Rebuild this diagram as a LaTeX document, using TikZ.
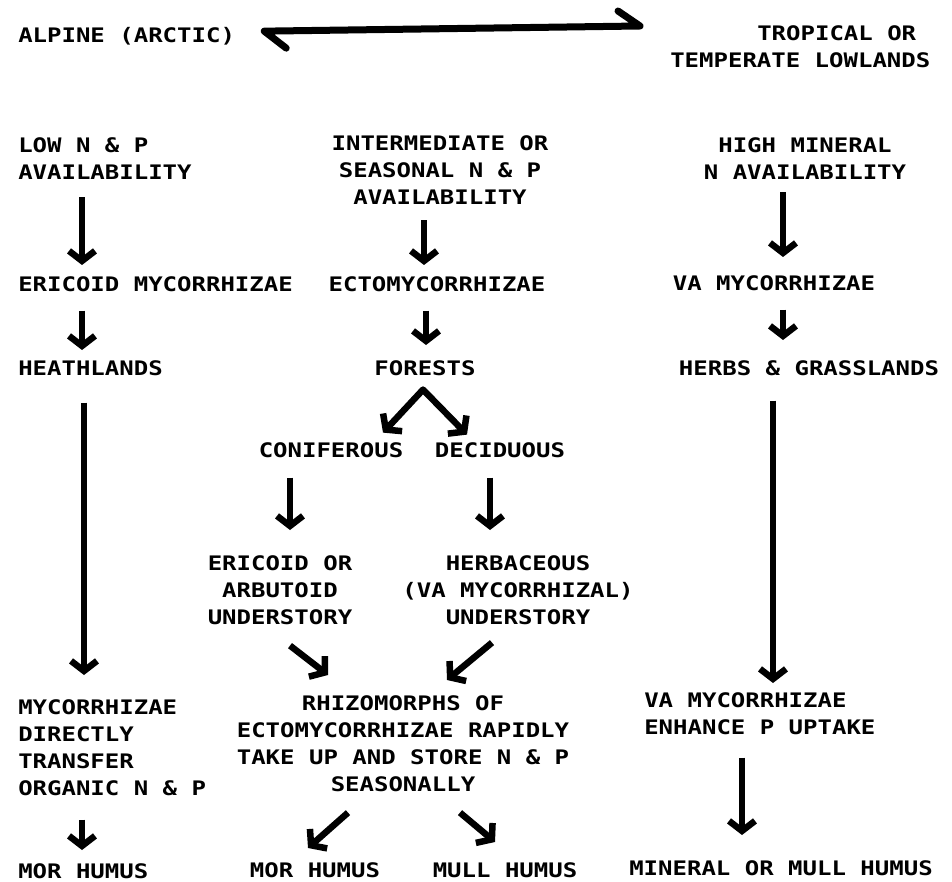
\documentclass[tikz,border=0pt]{standalone}
\usepackage{fontspec}
\newfontfamily\lettering{DejaVu Sans Mono}[FakeStretch=1.2]
\usetikzlibrary{arrows.meta}

\begin{document}
\begin{tikzpicture}[x=1pt, y=-1pt, line width=6.5pt,
  lbl/.style={font=\lettering\bfseries\fontsize{20}{27}\selectfont, inner sep=0pt, yshift=4pt},
  arr/.style={-{Straight Barb[length=10pt,width=26pt]}},
  both/.style={{Straight Barb[length=10pt,width=26pt]}-{Straight Barb[length=10pt,width=26pt]}, line join=round},
  harp/.style={line cap=round, line join=round, line width=7pt}]
\useasboundingbox (0,0) rectangle (952,882);

    \node [lbl, anchor=north west] (alpine) at (15,28) {ALPINE (ARCTIC)};
    \node [lbl, anchor=north west, align=left] (tropic) at (667,26) {\hspace*{87pt}TROPICAL OR\\TEMPERATE LOWLANDS};

    \node [lbl, anchor=north west, align=left] (lowNP) at (15,138) {LOW N \& P\\AVAILABILITY};
    \node [lbl, anchor=north west] (ericoid) at (15,277) {ERICOID MYCORRHIZAE};
    \node [lbl, anchor=north west] (heath) at (15,361) {HEATHLANDS};
    \node [lbl, anchor=north west, align=left] (direct) at (15,700) {MYCORRHIZAE\\DIRECTLY\\TRANSFER\\ORGANIC N \& P};
    \node [lbl, anchor=north west] (morL) at (15,864) {MOR HUMUS};

    \node [lbl, anchor=north, align=center] (interm) at (440,136) {INTERMEDIATE OR\\SEASONAL N \& P\\AVAILABILITY};
    \node [lbl, anchor=north] (ecto) at (437,277) {ECTOMYCORRHIZAE};
    \node [lbl, anchor=north] (forests) at (425,361) {FORESTS};
    \node [lbl, anchor=north] (conif) at (331,443) {CONIFEROUS};
    \node [lbl, anchor=north] (decid) at (500,443) {DECIDUOUS};
    \node [lbl, anchor=north, align=center] (ericor) at (280,556) {ERICOID OR\\ARBUTOID\\UNDERSTORY};
    \node [lbl, anchor=north, align=center] (herbac) at (518,556) {HERBACEOUS\\(VA MYCORRHIZAL)\\UNDERSTORY};
    \node [lbl, anchor=north, align=center] (rhizo) at (403,696) {RHIZOMORPHS OF\\ECTOMYCORRHIZAE RAPIDLY\\TAKE UP AND STORE N \& P\\SEASONALLY};
    \node [lbl, anchor=north] (morM) at (315,863) {MOR HUMUS};
    \node [lbl, anchor=north] (mull) at (505,863) {MULL HUMUS};

    \node [lbl, anchor=north, align=center] (highN) at (805,138) {HIGH MINERAL\\N AVAILABILITY};
    \node [lbl, anchor=north] (vaM) at (774,276) {VA MYCORRHIZAE};
    \node [lbl, anchor=north] (herbs) at (809,361) {HERBS \& GRASSLANDS};
    \node [lbl, anchor=north west, align=left] (vaP) at (641,693) {VA MYCORRHIZAE\\ENHANCE P UPTAKE};
    \node [lbl, anchor=north] (mineral) at (781,861) {MINERAL OR MULL HUMUS};

    \draw [harp] ([shift={(48,12)}]alpine.east) -- ([shift={(26,-5)}]alpine.east)
          -- ([shift={(-27,4)}]tropic.north west) -- ([shift={(-49,-11)}]tropic.north west);

    \draw [arr] ([shift={(67,15)}]lowNP.south west) -- ([shift={(67,-8)}]ericoid.north west);
    \draw [arr] ([shift={(67,16)}]ericoid.south west) -- ([shift={(67,-7)}]heath.north west);
    \draw [arr] ([shift={(69,24)}]heath.south west) -- ([shift={(69,-21)}]direct.north west);
    \draw [arr] ([shift={(67,21)}]direct.south west) -- ([shift={(67,-10)}]morL.north west);

    \draw [arr] ([shift={(-16,13)}]interm.south) -- ([shift={(-13,-8)}]ecto.north);
    \draw [arr] ([shift={(-11,16)}]ecto.south) -- ([shift={(1,-12)}]forests.north);
    \draw [both] ([shift={(-42,54)}]forests.south) -- ([shift={(-2,11)}]forests.south) -- ([shift={(42,56)}]forests.south);
    \draw [arr] ([shift={(-41,17)}]conif.south) -- ([shift={(10,-22)}]ericor.north);
    \draw [arr] ([shift={(-10,17)}]decid.south) -- ([shift={(-28,-22)}]herbac.north);
    \draw [arr] ([shift={(10,18)}]ericor.south) -- ([shift={(-75,-17)}]rhizo.north);
    \draw [arr] ([shift={(-26,15)}]herbac.south) -- ([shift={(44,-12)}]rhizo.north);
    \draw [arr] ([shift={(-55,18)}]rhizo.south) -- ([shift={(-7,-11)}]morM.north);
    \draw [arr] ([shift={(57,18)}]rhizo.south) -- ([shift={(-10,-17)}]mull.north);

    \draw [arr] ([shift={(-22,10)}]highN.south) -- ([shift={(9,-15)}]vaM.north);
    \draw [arr] ([shift={(9,16)}]vaM.south) -- ([shift={(-26,-17)}]herbs.north);
    \draw [arr] ([shift={(-36,22)}]herbs.south) -- ([shift={(132,-6)}]vaP.north west);
    \draw [arr] ([shift={(101,20)}]vaP.south west) -- ([shift={(-39,-22)}]mineral.north);

\end{tikzpicture}
\end{document}
